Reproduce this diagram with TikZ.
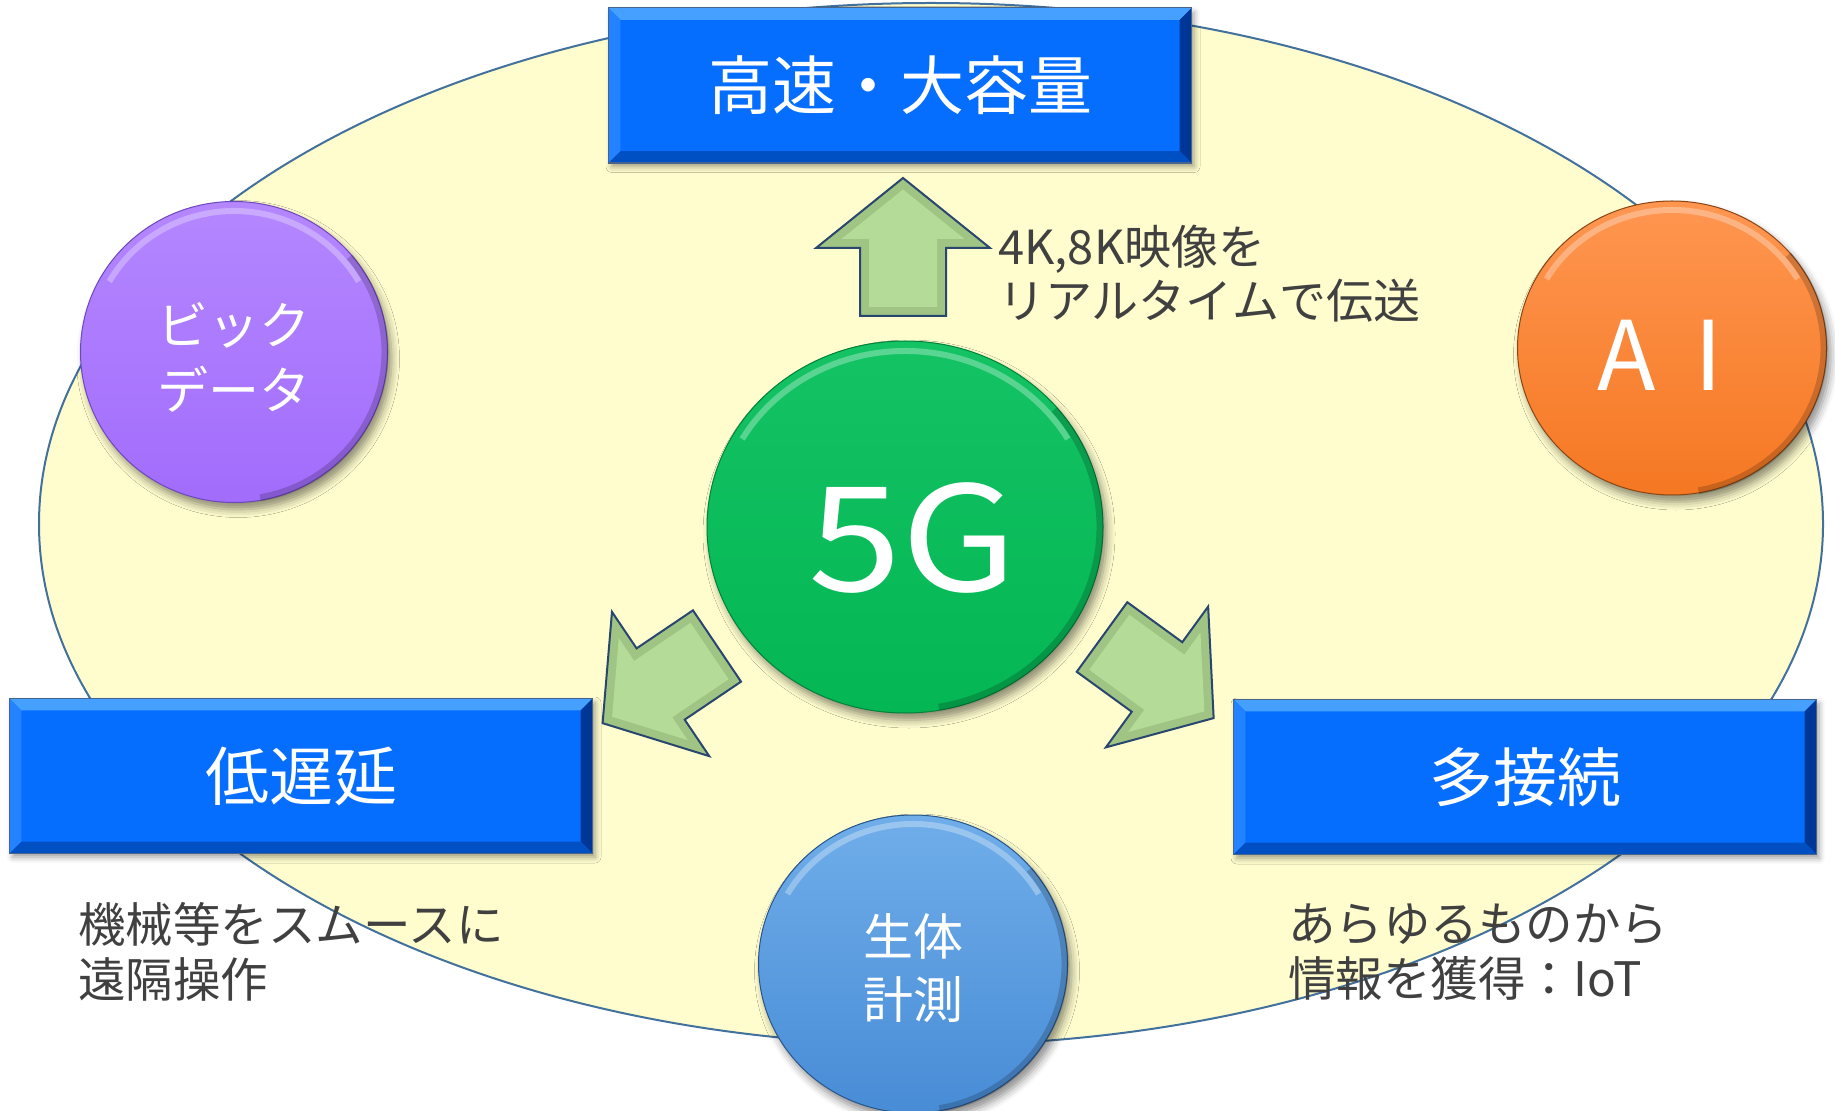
\documentclass[tikz,border=0pt]{standalone}
\usepackage{fontspec}
\setmainfont{Noto Sans CJK JP}
\usepackage{graphicx}
\usetikzlibrary{shapes.geometric,shadows.blur,calc}
\definecolor{bgfill}{RGB}{255,253,206}
\definecolor{bgline}{RGB}{65,113,156}
\definecolor{boxblue}{RGB}{6,110,255}
\definecolor{bevtop}{RGB}{70,160,255}
\definecolor{bevleft}{RGB}{35,130,255}
\definecolor{bevright}{RGB}{0,55,150}
\definecolor{bevbot}{RGB}{0,80,195}
\definecolor{boxline}{RGB}{70,100,140}
\definecolor{txtgray}{RGB}{64,64,64}
\definecolor{arrfill}{RGB}{180,220,152}
\definecolor{arrbevel}{RGB}{160,196,132}
\definecolor{arrline}{RGB}{40,70,110}
\definecolor{purpleA}{RGB}{180,135,255}
\definecolor{purpleB}{RGB}{162,108,252}
\definecolor{purpleE}{RGB}{110,70,190}
\definecolor{orangeA}{RGB}{255,150,80}
\definecolor{orangeB}{RGB}{245,120,35}
\definecolor{orangeE}{RGB}{140,70,20}
\definecolor{blueA}{RGB}{112,174,234}
\definecolor{blueB}{RGB}{72,140,214}
\definecolor{blueE}{RGB}{40,85,140}
\definecolor{greenA}{RGB}{20,195,100}
\definecolor{greenB}{RGB}{4,182,84}
\definecolor{greenE}{RGB}{0,130,60}
\newcommand\boxbevel[1]{%
 \fill[bevtop] (#1.north west) -- (#1.north east) -- ($(#1.north east)+(-12,12)$) -- ($(#1.north west)+(12,12)$) -- cycle;
 \fill[bevleft] (#1.north west) -- ($(#1.north west)+(12,12)$) -- ($(#1.south west)+(12,-12)$) -- (#1.south west) -- cycle;
 \fill[bevright] (#1.north east) -- ($(#1.north east)+(-12,12)$) -- ($(#1.south east)+(-12,-12)$) -- (#1.south east) -- cycle;
 \fill[bevbot] (#1.south west) -- ($(#1.south west)+(12,-12)$) -- ($(#1.south east)+(-12,-12)$) -- (#1.south east) -- cycle;
 \draw[boxline, line width=0.6pt] (#1.north west) rectangle (#1.south east);
}
% #1 node, #2/#3 inner highlight radii, #4/#5 edge radii (px)
\newcommand\ballrim[5]{%
 \draw[white, opacity=.3, line width=3pt] (#1.center) ++(-150:#2 and #3) arc[start angle=-150, end angle=-30, x radius=#2, y radius=#3];
 \draw[black, opacity=.18, line width=3.5pt] (#1.center) ++(80:#4 and #5) arc[start angle=80, end angle=-40, x radius=#4, y radius=#5];
}
\newcommand\fatarrow{%
 \draw[bigarrow, fill=arrbevel] (-43,0) -- (-43,-68) -- (-87,-68) -- (0,-138) -- (87,-68) -- (43,-68) -- (43,0) -- cycle;
 \fill[arrfill] (-34,-9) -- (-34,-77) -- (-61.5,-77) -- (0,-126.5) -- (61.5,-77) -- (34,-77) -- (34,-9) -- cycle;
}
\begin{document}
\begin{tikzpicture}[x=0.5pt,y=-0.5pt,
  bluebox/.style={rectangle, draw=boxline, line width=0.6pt, fill=boxblue, minimum width=291pt, minimum height=77pt, inner sep=0pt, text=white, font=\fontsize{32}{38}\selectfont, blur shadow={shadow xshift=1.5pt, shadow yshift=-2pt, shadow blur radius=3pt, shadow opacity=40}},
  ball/.style={ellipse, inner sep=0pt, line width=0.5pt, blur shadow={shadow xshift=2pt, shadow yshift=-3.5pt, shadow blur radius=4pt, shadow opacity=45}},
  balltext/.style={text=white, align=center, inner sep=0pt},
  desc/.style={text=txtgray, align=left, inner sep=0pt, font=\fontsize{23.75}{27.5}\selectfont},
  bigarrow/.style={draw=arrline, line width=1pt, line join=miter}
]
\useasboundingbox (0,0) rectangle (1835,1111);
\node[ellipse, draw=bgline, fill=bgfill, line width=1pt, minimum width=892pt, minimum height=521pt, inner sep=0pt] (field) at (931,524) {};

% boxes
\node[bluebox] (speed) at (900,85.5) {};
\boxbevel{speed}
\node[text=white, font=\fontsize{32}{38}\selectfont, inner sep=0pt] (speedt) at (speed.center) {高速・大容量};
\node[bluebox] (latency) at (301,776) {};
\boxbevel{latency}
\node[text=white, font=\fontsize{32}{38}\selectfont, inner sep=0pt] (latencyt) at (latency.center) {低遅延};
\node[bluebox] (conn) at (1525,777) {};
\boxbevel{conn}
\node[text=white, font=\fontsize{32}{38}\selectfont, inner sep=0pt] (connt) at (conn.center) {多接続};

% circles
\node[ball, draw=purpleE, top color=purpleA, bottom color=purpleB, minimum width=153.5pt, minimum height=150.5pt] (bigdata) at (234,352) {};
\ballrim{bigdata}{144}{141}{151}{148}
\node[balltext, font=\fontsize{25.5}{32.5}\selectfont] (bigdatat) at (234,357) {ビック\\データ};

\node[ball, draw=orangeE, top color=orangeA, bottom color=orangeB, minimum width=154.5pt, minimum height=147pt] (ai) at (1672,348) {};
\ballrim{ai}{145}{138}{152}{145}
\node[balltext, font=\fontsize{48}{50}\selectfont] (ait) at (1660,355) {A\hspace{0.4em}I};

\node[ball, draw=greenE, top color=greenA, bottom color=greenB, minimum width=198pt, minimum height=186pt] (fiveg) at (905,527) {};
\ballrim{fiveg}{188}{176}{195}{183}
\node[balltext, font=\fontsize{73}{80}\selectfont] (fivegt) at (913,538) {\scalebox{1.15}[1]{5G}};

\node[ball, draw=blueE, top color=blueA, bottom color=blueB, minimum width=154.5pt, minimum height=149pt] (bio) at (913,964) {};
\ballrim{bio}{145}{140}{152}{147}
\node[balltext, font=\fontsize{25}{31.5}\selectfont] (biot) at (913,968) {生体\\計測};

% arrows
\begin{scope}[shift={(903,316)}]
 \fatarrow
\end{scope}
\begin{scope}[shift={(717,646)}, rotate=124]
 \fatarrow
\end{scope}
\begin{scope}[shift={(1102,637)}, rotate=-126]
 \fatarrow
\end{scope}

% descriptions
\node[desc, anchor=west, font=\fontsize{23.5}{27}\selectfont] (d1) at (998,274) {4K,8K映像を\\リアルタイムで伝送};
\node[desc, anchor=west] (d2) at (78,952) {機械等をスムースに\\遠隔操作};
\node[desc, anchor=west] (d3) at (1288,952) {あらゆるものから\\情報を獲得：IoT};
\end{tikzpicture}
\end{document}
